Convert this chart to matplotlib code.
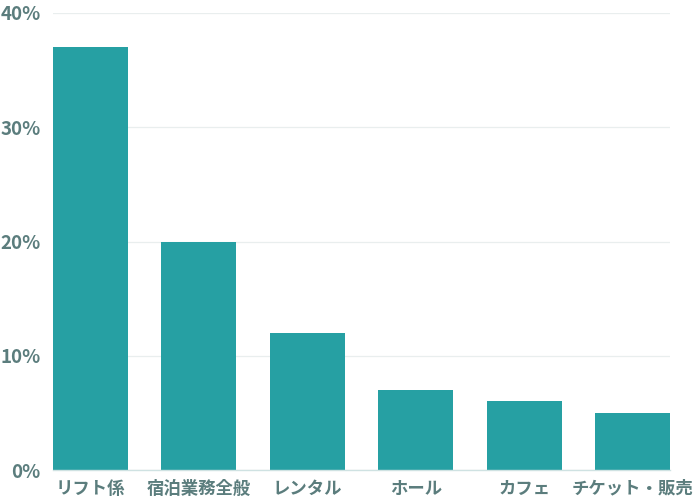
import matplotlib
matplotlib.use("Agg")
import matplotlib.pyplot as plt

categories = ["リフト係", "宿泊業務全般", "レンタル", "ホール", "カフェ", "チケット・販売"]
values = [37, 20, 12, 7, 6, 5]
yticks = [0, 10, 20, 30, 40]
ytick_labels = ["0%", "10%", "20%", "30%", "40%"]

plt.rcParams['font.family'] = ['Noto Sans CJK JP', 'DejaVu Sans']

fig = plt.figure(figsize=(6.95, 5.0), dpi=100)
ax = fig.add_axes([53/695, 30/500, (670-53)/695, (470-13)/500])

bar_color = "#26a0a3"
text_color = "#5b7d7d"

x = list(range(len(categories)))
ax.bar(x, values, width=0.69, color=bar_color, zorder=3)
ax.set_xlim(-0.345, len(categories) - 1 + 0.345)
ax.set_ylim(0, 40)
ax.set_yticks(yticks)
ax.set_yticklabels(ytick_labels)
ax.set_xticks(x)
ax.set_xticklabels(categories)

for s in ["top", "right", "left"]:
    ax.spines[s].set_visible(False)
ax.spines["bottom"].set_color("#cfe2e2")
ax.spines["bottom"].set_linewidth(1.0)
ax.spines["bottom"].set_zorder(4)

ax.grid(axis="y", color="#e9eeee", linewidth=0.9, zorder=0)
ax.tick_params(axis="both", length=0, labelcolor=text_color)
ax.tick_params(axis="y", pad=9)
ax.tick_params(axis="x", pad=7)
for lab in ax.get_yticklabels():
    lab.set_fontsize(13.5)
    lab.set_fontweight("bold")
for lab in ax.get_xticklabels():
    lab.set_fontsize(12.5)
    lab.set_fontweight("bold")

fig.savefig("out.png", dpi=100, facecolor="white")
